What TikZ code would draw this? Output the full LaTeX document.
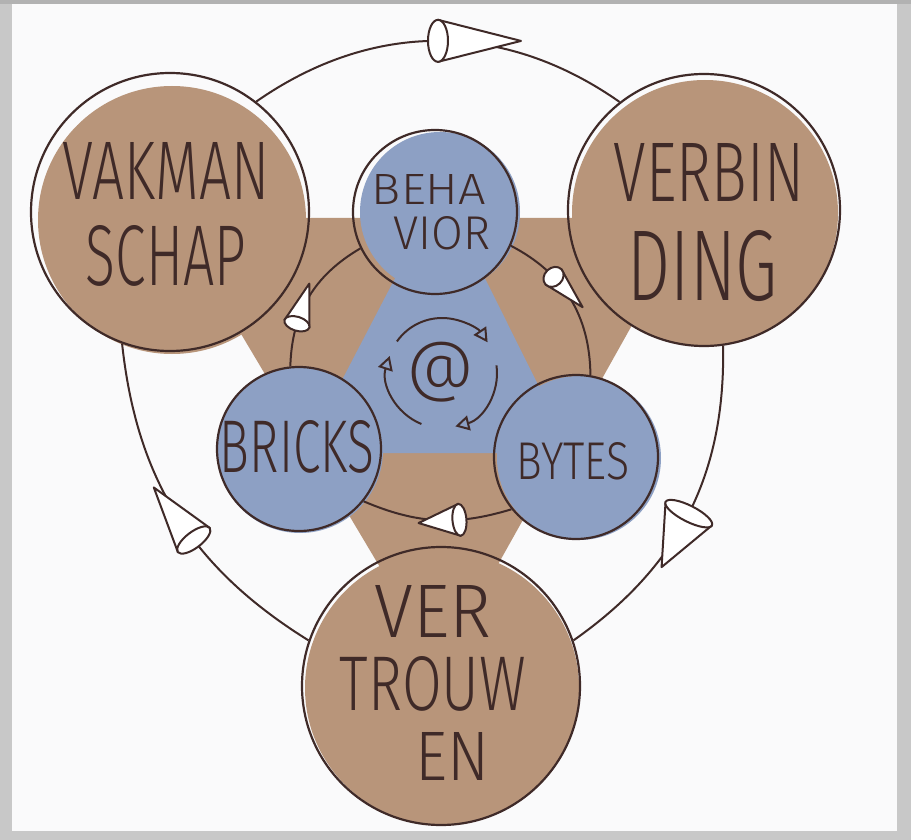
\documentclass[tikz,border=0pt]{standalone}
\usepackage{fontspec}
\newfontfamily\hand{Fira Sans Light}
\usetikzlibrary{decorations.markings, arrows.meta}
\definecolor{ink}{HTML}{3F2A28}
\definecolor{brownc}{HTML}{B8957A}
\definecolor{bluec}{HTML}{8DA0C4}
\definecolor{paper}{HTML}{FAFAFB}
\definecolor{framegray}{HTML}{C8C8C8}
\newcommand\hw[3]{\resizebox{#1pt}{#2pt}{\hand #3}}
% cone-shaped hand-drawn arrow head: length, half width, ellipse depth
\newcommand\conehead[3]{%
  \draw[ink, line width=2pt, fill=white, line join=round] (0,#2) -- (#1,0) -- (0,-#2) -- cycle;
  \draw[ink, line width=2pt, fill=white] (0,0) ellipse [x radius=#3, y radius=#2];
}
\begin{document}
\begin{tikzpicture}[x=1pt,y=1pt,
  disc/.style={circle, inner sep=0pt, draw=ink, line width=2.2pt},
  flow/.style={draw=ink, line width=2pt},
  conemark/.style n args={4}{postaction={decorate, decoration={markings, mark=at position #1 with {\conehead{#2}{#3}{#4}}}}},
  ringtip/.style={-{Triangle[open, length=14pt, width=15pt, line width=2pt]}},
  lbl/.style={inner sep=0pt, text=ink},
]
\useasboundingbox (0,0) rectangle (911,-840);
\fill[framegray] (0,0) rectangle (911,-840);
\fill[gray!60] (0,0) rectangle (911,-4);
\fill[paper] (12,-4) rectangle (897,-831);

% triangles
\fill[brownc] (172,-218) -- (692,-218) -- (440,-668) -- cycle;
\fill[bluec] (441,-190) -- (304,-453) -- (572,-453) -- cycle;

% big brown discs
\fill[brownc] (172,-220) circle[radius=134];
\fill[brownc] (705,-213) circle[radius=133];
\fill[brownc] (442,-688) circle[radius=137];
\node[disc, minimum size=278] (vak) at (170,-212) {};
\node[disc, minimum size=272] (verb) at (704,-210) {};
\node[disc, minimum size=278] (vert) at (441,-686) {};

% blue discs
\fill[bluec] (440,-212) circle[radius=80];
\fill[bluec] (300,-450) circle[radius=83];
\fill[bluec] (579,-458) circle[radius=82];
\node[disc, minimum size=164] (beh) at (435,-212) {};
\node[disc, minimum size=164] (bri) at (299,-449) {};
\node[disc, minimum size=164] (byt) at (576,-457) {};

% outer cycle
\draw[flow, conemark={0.5}{83}{21}{10}] (vak.52) to[bend left=35] (verb.128);
\draw[flow, conemark={0.5}{60}{26}{8}] (verb.-82) to[bend left=28] (vert.19);
\draw[flow, conemark={0.42}{66}{20}{8}] (vert.161) to[bend left=26] (vak.250);

% inner cycle
\draw[flow, conemark={0.33}{42}{11}{9}] (beh.-24) to[bend left=31] (byt.80);
\draw[flow, conemark={0.35}{41}{16}{7}] (byt.219) to[bend left=20] (bri.321);
\draw[flow, conemark={0.3}{42}{13}{7}] (bri.96) to[bend left=29] (beh.206);

% ring around @
\coordinate (ringc) at (442,-373);
\draw[flow, ringtip] ([shift={(145:55pt)}]ringc) arc[start angle=145, end angle=34, radius=55pt];
\draw[flow, ringtip] ([shift={(8:55pt)}]ringc) arc[start angle=8, end angle=-76, radius=55pt];
\draw[flow, ringtip] ([shift={(-112:55pt)}]ringc) arc[start angle=-112, end angle=-198, radius=55pt];

% labels
\node[lbl] (t1) at (166,-171) {\hw{207}{57}{VAKMAN}};
\node[lbl] (t2) at (166,-256) {\hw{160}{60}{SCHAP}};
\node[lbl] (t3) at (709,-172) {\hw{190}{58}{VERBIN}};
\node[lbl] (t4) at (703,-266) {\hw{150}{70}{DING}};
\node[lbl] (t5) at (429,-189) {\hw{114}{30}{BEHA}};
\node[lbl] (t6) at (442,-233) {\hw{97}{33}{VIOR}};
\node[lbl] (t7) at (297,-447) {\hw{154}{52}{BRICKS}};
\node[lbl] (t8) at (573,-461) {\hw{113}{37}{BYTES}};
\node[lbl] (t9) at (433,-611) {\hw{117}{52}{VER}};
\node[lbl] (t10) at (433,-684) {\hw{186}{54}{TROUW}};
\node[lbl] (t11) at (453,-756) {\hw{74}{48}{EN}};
\node[lbl] (atsign) at (441,-372) {\resizebox{68pt}{!}{\hand @}};
\end{tikzpicture}
\end{document}
